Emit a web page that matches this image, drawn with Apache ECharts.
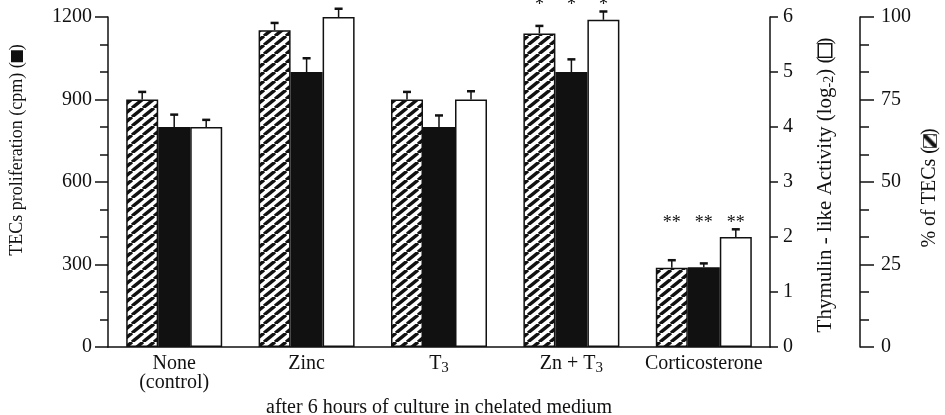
<!DOCTYPE html>
<html>
<head>
<meta charset="utf-8">
<script src="https://cdn.jsdelivr.net/npm/echarts@6/dist/echarts.min.js"></script>
<style>
  html, body { margin: 0; padding: 0; background: #fff; }
  #chart { width: 945px; height: 415px; }
</style>
</head>
<body>
<div id="chart"></div>
<script>
  // treatments (after 6 h of culture in chelated medium)
  var categories = ['None\n(control)', 'Zinc', 'T3', 'Zn + T3', 'Corticosterone'];

  // % of TECs (hatched), right outer axis
  var pctTECs = [75, 96, 75, 95, 24];
  var pctErr = [2.3, 2.2, 2.3, 2.3, 2.3];

  // TECs proliferation, cpm (black), left axis
  var cpm = [800, 1000, 800, 1000, 290];
  var cpmErr = [45, 50, 42, 46, 14];

  // thymulin-like activity, log-2 (white), right inner axis
  var thymulin = [4.0, 6.0, 4.5, 5.95, 2.0];
  var thymErr = [0.13, 0.15, 0.15, 0.15, 0.14];

  // significance marks over each group
  var sigMarks = ['', '', '', '*', '**'];

  var cpmTicks = [0, 1200, 300];
  var thymTicks = [0, 6, 1];
  var pctTicks = [0, 100, 25];

  var FONT = "'Liberation Serif', 'DejaVu Serif', serif";
  var INK = '#111';
  var BAR_W = 32;

  function hatch() {
    // stripes rising left to right, a bit flatter than 45 deg
    var c = document.createElement('canvas');
    var w = 11, h = 9;
    c.width = w; c.height = h;
    var g = c.getContext('2d');
    g.fillStyle = '#fff';
    g.fillRect(0, 0, w, h);
    g.strokeStyle = INK;
    g.lineWidth = 3.4;
    for (var k = -1; k <= 1; k++) {
      g.beginPath();
      g.moveTo(k * w, h);
      g.lineTo(k * w + w, 0);
      g.stroke();
    }
    return c;
  }
  var hatchCanvas = hatch();

  function toErr(vals, errs) {
    return vals.map(function (v, i) { return [i, v, errs[i]]; });
  }

  function errRender(offset) {
    return function (params, api) {
      var x = api.value(0), v = api.value(1), e = api.value(2);
      var p0 = api.coord([x, v]);
      var p1 = api.coord([x, v + e]);
      var cx = p0[0] + offset;
      return {
        type: 'group',
        children: [
          { type: 'line', shape: { x1: cx, y1: p0[1], x2: cx, y2: p1[1] }, style: { stroke: INK, lineWidth: 1.5 } },
          { type: 'line', shape: { x1: cx - 4, y1: p1[1], x2: cx + 4, y2: p1[1] }, style: { stroke: INK, lineWidth: 2.5 } }
        ]
      };
    };
  }

  function starRender(params, api) {
    var i = api.value(0);
    var mark = sigMarks[i];
    if (!mark) return null;
    var frac = Math.max(
      (pctTECs[i] + pctErr[i]) / pctTicks[1],
      (cpm[i] + cpmErr[i]) / cpmTicks[1],
      (thymulin[i] + thymErr[i]) / thymTicks[1]
    );
    var p = api.coord([i, frac * cpmTicks[1]]);
    var kids = [];
    [-1, 0, 1].forEach(function (k) {
      kids.push({
        type: 'text',
        x: p[0] + k * BAR_W,
        y: p[1] - 6,
        style: { text: mark, fill: INK, font: '18px ' + FONT, align: 'center', verticalAlign: 'middle' }
      });
    });
    return { type: 'group', children: kids };
  }

  function plain(v) { return String(v); }

  var axisLine = { show: true, lineStyle: { color: INK, width: 1.5 } };

  var chart = echarts.init(document.getElementById('chart'));
  chart.setOption({
    backgroundColor: '#fff',
    animation: false,
    grid: { left: 108, right: 175, top: 17, bottom: 68, containLabel: false, outerBoundsMode: 'none' },
    xAxis: {
      type: 'category',
      data: categories,
      axisLine: axisLine,
      axisTick: { show: false },
      axisLabel: {
        interval: 0, color: INK, fontFamily: FONT, fontSize: 20, margin: 7, lineHeight: 19,
        formatter: function (v) { return v.replace(/T3/g, 'T{s|3}'); },
        rich: { s: { fontFamily: FONT, fontSize: 15, color: INK, padding: [10, 0, 0, 0] } }
      },
      name: 'after 6 hours of culture in chelated medium',
      nameLocation: 'middle',
      nameGap: 40,
      nameTextStyle: { color: INK, fontFamily: FONT, fontSize: 20 }
    },
    yAxis: [
      {
        type: 'value', position: 'left',
        min: cpmTicks[0], max: cpmTicks[1], interval: cpmTicks[2],
        axisLine: axisLine,
        axisTick: { show: true, inside: false, length: 13, lineStyle: { color: INK, width: 1.5 } },
        minorTick: { show: true, splitNumber: 3, length: 8, lineStyle: { color: INK, width: 1.5 } },
        splitLine: { show: false },
        axisLabel: { color: INK, fontFamily: FONT, fontSize: 20, margin: 16, formatter: plain }
      },
      {
        type: 'value', position: 'right',
        min: thymTicks[0], max: thymTicks[1], interval: thymTicks[2],
        axisLine: axisLine,
        axisTick: { show: true, inside: false, length: 8, lineStyle: { color: INK, width: 1.5 } },
        splitLine: { show: false },
        axisLabel: { color: INK, fontFamily: FONT, fontSize: 20, margin: 13, formatter: plain }
      },
      {
        type: 'value', position: 'right', offset: 90,
        min: pctTicks[0], max: pctTicks[1], interval: pctTicks[2],
        axisLine: axisLine,
        axisTick: { show: true, inside: false, length: 14, lineStyle: { color: INK, width: 1.5 } },
        minorTick: { show: true, splitNumber: 3, length: 9, lineStyle: { color: INK, width: 1.5 } },
        splitLine: { show: false },
        axisLabel: { color: INK, fontFamily: FONT, fontSize: 20, margin: 21, formatter: plain }
      }
    ],
    graphic: [
      {
        type: 'text', x: 17, y: 150, rotation: Math.PI / 2,
        style: {
          text: 'TECs proliferation (cpm) ({b|})',
          fill: INK, font: '18px ' + FONT, align: 'center', verticalAlign: 'middle',
          rich: { b: { width: 12, height: 12, backgroundColor: INK } }
        }
      },
      {
        type: 'text', x: 825, y: 185, rotation: Math.PI / 2,
        style: {
          text: 'Thymulin - like Activity (log{s|-2}) ({w|})',
          fill: INK, font: '21px ' + FONT, align: 'center', verticalAlign: 'middle',
          rich: {
            s: { fontFamily: FONT, fontSize: 14, fill: INK, padding: [9, 0, 0, 0] },
            w: { width: 12, height: 12, backgroundColor: '#fff', borderColor: INK, borderWidth: 1.5 }
          }
        }
      },
      {
        type: 'text', x: 930, y: 188, rotation: Math.PI / 2,
        style: {
          text: '% of TECs ({h|})',
          fill: INK, font: '20px ' + FONT, align: 'center', verticalAlign: 'middle',
          rich: { h: { width: 12, height: 12, backgroundColor: { image: hatchCanvas, repeat: 'repeat' }, borderColor: INK, borderWidth: 1.5 } }
        }
      }
    ],
    series: [
      {
        name: '% of TECs', type: 'bar', yAxisIndex: 2,
        barWidth: BAR_W, barGap: '0%',
        data: pctTECs,
        itemStyle: { color: { image: hatchCanvas, repeat: 'repeat' }, borderColor: INK, borderWidth: 1.5 }
      },
      {
        name: 'TECs proliferation', type: 'bar', yAxisIndex: 0,
        barWidth: BAR_W, barGap: '0%',
        data: cpm,
        itemStyle: { color: INK, borderColor: INK, borderWidth: 1.5 }
      },
      {
        name: 'Thymulin-like activity', type: 'bar', yAxisIndex: 1,
        barWidth: BAR_W, barGap: '0%',
        data: thymulin,
        itemStyle: { color: '#fff', borderColor: INK, borderWidth: 1.5 }
      },
      { type: 'custom', yAxisIndex: 2, z: 5, clip: false, renderItem: errRender(-BAR_W), data: toErr(pctTECs, pctErr) },
      { type: 'custom', yAxisIndex: 0, z: 5, clip: false, renderItem: errRender(0), data: toErr(cpm, cpmErr) },
      { type: 'custom', yAxisIndex: 1, z: 5, clip: false, renderItem: errRender(BAR_W), data: toErr(thymulin, thymErr) },
      { type: 'custom', yAxisIndex: 0, z: 6, clip: false, renderItem: starRender, data: categories.map(function (c, i) { return [i]; }) }
    ]
  });
</script>
</body>
</html>
